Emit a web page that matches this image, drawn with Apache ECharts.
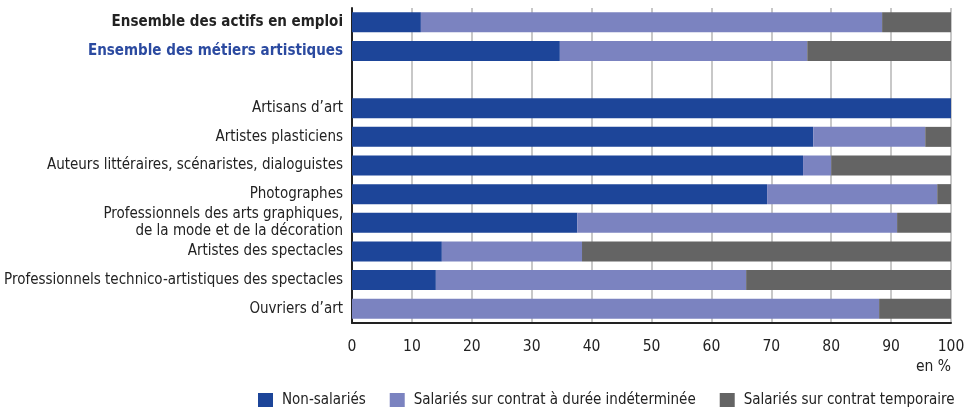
<!DOCTYPE html>
<html>
<head>
<meta charset="utf-8">
<script src="https://cdn.jsdelivr.net/npm/echarts@6/dist/echarts.min.js"></script>
<style>
  html, body { margin: 0; padding: 0; background: #fff; }
  #main { width: 973px; height: 407px; }
</style>
</head>
<body>
<div id="main"></div>
<script>
// catégories (de haut en bas), la ligne vide sépare les ensembles des métiers
var categories = [
  'Ensemble des actifs en emploi',
  'Ensemble des métiers artistiques',
  '',
  'Artisans d\u2019art',
  'Artistes plasticiens',
  'Auteurs littéraires, scénaristes, dialoguistes',
  'Photographes',
  'Professionnels des arts graphiques,\nde la mode et de la décoration',
  'Artistes des spectacles',
  'Professionnels technico-artistiques des spectacles',
  'Ouvriers d\u2019art'
];
var nonSalaries = [11.5, 34.7, null, 100, 77, 75.3, 69.3, 37.6, 15, 14, 0];
var cdi = [77, 41.3, null, 0, 18.7, 4.7, 28.4, 53.4, 23.4, 51.8, 88];
var temporaire = [11.5, 24, null, 0, 4.3, 20, 2.3, 9, 61.6, 34.2, 12];
var xTicks = [0, 10, 20, 30, 40, 50, 60, 70, 80, 90, 100];

var font = '"DejaVu Sans Condensed", "Liberation Sans Narrow", sans-serif';
var myColor = ['#1d4599', '#7b83c0', '#646464'];

var myChart = echarts.init(document.getElementById('main'));

var option = {
  animation: false,
  textStyle: { fontFamily: font },
  grid: {
    left: 352,
    right: 22,
    top: 8,
    bottom: 84,
    outerBoundsMode: 'none'
  },
  legend: {
    left: 253,
    top: 388,
    width: 720,
    itemWidth: 15,
    itemHeight: 15,
    itemGap: 24,
    icon: 'rect',
    textStyle: { fontFamily: font, fontSize: 15, color: '#222', padding: [0, 0, 0, 4] },
    data: ['Non-salariés', 'Salariés sur contrat à durée indéterminée', 'Salariés sur contrat temporaire']
  },
  xAxis: {
    type: 'value',
    min: xTicks[0],
    max: xTicks[xTicks.length - 1],
    interval: 10,
    axisLine: { show: true, lineStyle: { color: '#222', width: 2 } },
    axisTick: { show: false },
    axisLabel: { color: '#222', fontSize: 15.5, fontFamily: font, margin: 16 },
    splitLine: { show: true, lineStyle: { color: '#c8c8c8', width: 2 } }
  },
  yAxis: {
    type: 'category',
    inverse: true,
    data: categories,
    axisLine: { show: true, lineStyle: { color: '#222', width: 2 } },
    axisTick: { show: false },
    axisLabel: {
      fontFamily: font,
      fontSize: 15,
      margin: 9,
      lineHeight: 17,
      color: '#222',
      formatter: function (value, index) {
        if (index === 0) return '{b|' + value + '}';
        if (index === 1) return '{bb|' + value + '}';
        return value;
      },
      rich: {
        b: { fontWeight: 'bold', fontSize: 15, fontFamily: font, color: '#222' },
        bb: { fontWeight: 'bold', fontSize: 15, fontFamily: font, color: '#2b4aa0' }
      }
    }
  },
  graphic: [{
    type: 'text',
    right: 22,
    top: 359,
    style: { text: 'en %', fontFamily: font, fontSize: 15.5, fill: '#222' }
  }],
  series: [{
    name: 'Non-salariés',
    type: 'bar',
    stack: 'total',
    barWidth: 20,
    data: nonSalaries,
    itemStyle: { color: myColor[0] }
  }, {
    name: 'Salariés sur contrat à durée indéterminée',
    type: 'bar',
    stack: 'total',
    barWidth: 20,
    data: cdi,
    itemStyle: { color: myColor[1] }
  }, {
    name: 'Salariés sur contrat temporaire',
    type: 'bar',
    stack: 'total',
    barWidth: 20,
    data: temporaire,
    itemStyle: { color: myColor[2] }
  }]
};

myChart.setOption(option);
window.addEventListener('resize', function () {
  myChart.resize();
});
</script>
</body>
</html>
